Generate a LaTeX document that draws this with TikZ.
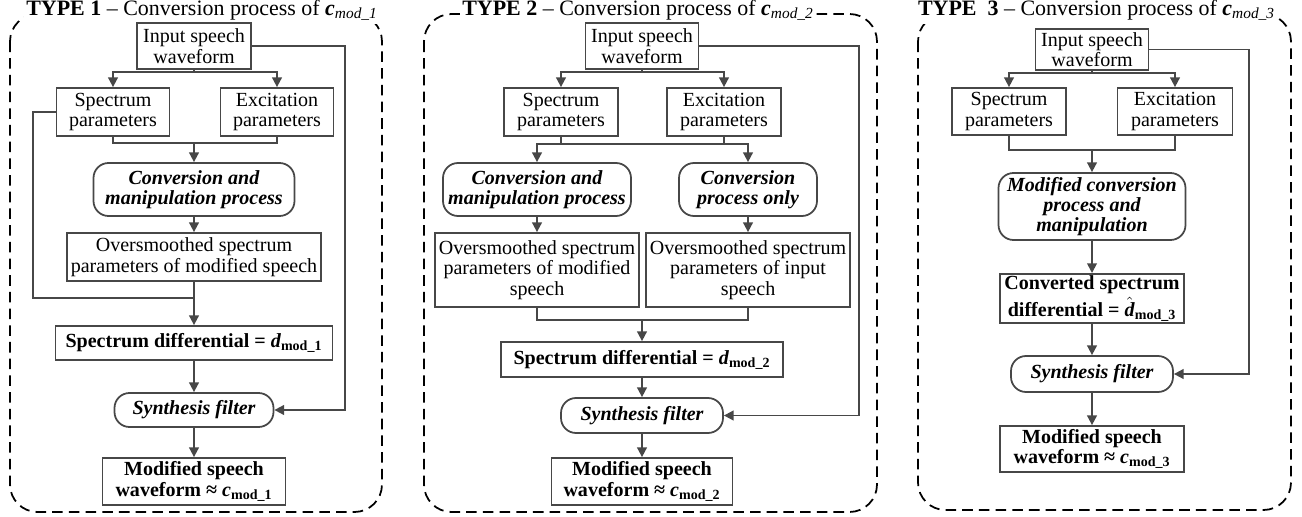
\documentclass[tikz,border=0pt]{standalone}
\usepackage{fontspec}
\setmainfont{Liberation Serif}
\usetikzlibrary{arrows.meta}

\definecolor{linegray}{HTML}{474747}
\newcommand{\bodyfont}{\fontsize{11.4}{11.6}\selectfont}
\newcommand{\ttlfont}{\fontsize{12.5}{13}\selectfont}

\tikzset{
  blk/.style={draw=linegray, line width=1pt, align=center, inner xsep=2pt, inner ysep=1pt, font=\bodyfont},
  proc/.style={blk, rounded corners=0.3cm, font=\bodyfont\bfseries\itshape},
  res/.style={blk, font=\bodyfont\bfseries},
  flow/.style={draw=linegray, line width=1pt, -{Triangle[length=5.5pt,width=5.5pt]}},
  link/.style={draw=linegray, line width=1pt},
  frame/.style={draw=black, line width=1pt, dash pattern=on 6pt off 3.5pt, rounded corners=0.55cm},
  ttl/.style={fill=white, font=\ttlfont, inner sep=1.5pt, anchor=base}
}

\begin{document}
\begin{tikzpicture}
\useasboundingbox (0,0) rectangle (26.04,-10.34);

% Dashed frames
\draw[frame] (0.2,-0.28) rectangle (7.64,-10.24);
\draw[frame] (8.48,-0.28) rectangle (17.54,-10.24);
\draw[frame] (18.36,-0.28) rectangle (25.82,-10.2);

% Titles
\node[ttl] (t1) at (4.04,-0.31) {\textbf{TYPE 1} -- Conversion process of \textbf{\textit{c}}\textsubscript{\textit{mod\_1}}};
\node[ttl] (t2) at (12.76,-0.31) {\textbf{TYPE 2} -- Conversion process of \textbf{\textit{c}}\textsubscript{\textit{mod\_2}}};
\node[ttl] (t3) at (21.93,-0.31) {\textbf{TYPE\ \ 3} -- Conversion process of \textbf{\textit{c}}\textsubscript{\textit{mod\_3}}};

% TYPE 1
\node[blk, minimum width=2.28cm, minimum height=0.92cm] (in1) at (3.88,-0.92) {Input speech\\waveform};
\node[blk, minimum width=2.26cm, minimum height=0.96cm] (sp1) at (2.26,-2.24) {Spectrum\\parameters};
\node[blk, minimum width=2.26cm, minimum height=0.96cm] (ex1) at (5.54,-2.24) {Excitation\\parameters};
\node[proc, minimum width=4.02cm, minimum height=1.06cm] (conv1) at (3.88,-3.79) {Conversion and\\manipulation process};
\node[blk, minimum width=5.0cm, minimum height=0.96cm] (ov1) at (3.88,-5.14) {Oversmoothed spectrum\\parameters of modified speech};
\node[res, minimum width=5.54cm, minimum height=0.68cm] (diff1) at (3.88,-6.86) {Spectrum differential = \textit{d}\textsubscript{mod\_1}};
\node[proc, minimum width=3.18cm, minimum height=0.68cm] (syn1) at (3.88,-8.2) {Synthesis filter};
\node[res, minimum width=3.66cm, minimum height=0.94cm] (mod1) at (3.88,-9.63) {Modified speech\\waveform ≈ \textit{c}\textsubscript{mod\_1}};

\coordinate (j1) at (3.88,-2.86);
\coordinate (m1) at (3.88,-5.96);
\draw[flow] (in1.south) -- ++(0,-0.04) -| (sp1.north);
\draw[flow] (in1.south) -- ++(0,-0.04) -| (ex1.north);
\draw[link] (sp1.south) |- (j1) -| (ex1.south);
\draw[flow] (j1) -- (conv1.north);
\draw[flow] (conv1) -- (ov1);
\draw[link] (sp1.west) -- ++(-0.45,0) |- (m1);
\draw[link] (ov1.south) -- (m1);
\draw[flow] (m1) -- (diff1.north);
\draw[flow] (diff1) -- (syn1);
\draw[flow] (syn1) -- (mod1);
\draw[flow] (in1.east) -- ++(1.86,0) |- (syn1.east);

% TYPE 2
\node[blk, minimum width=2.26cm, minimum height=0.92cm] (in2) at (12.84,-0.92) {Input speech\\waveform};
\node[blk, minimum width=2.28cm, minimum height=0.96cm] (sp2) at (11.22,-2.24) {Spectrum\\parameters};
\node[blk, minimum width=2.28cm, minimum height=0.96cm] (ex2) at (14.48,-2.24) {Excitation\\parameters};
\node[proc, minimum width=3.76cm, minimum height=1.06cm] (conv2a) at (10.74,-3.79) {Conversion and\\manipulation process};
\node[proc, minimum width=2.76cm, minimum height=1.06cm] (conv2b) at (14.96,-3.79) {Conversion\\process only};
\node[blk, minimum width=4.04cm, minimum height=1.48cm] (ov2a) at (10.74,-5.4) {Oversmoothed spectrum\\parameters of modified\\speech};
\node[blk, minimum width=4.04cm, minimum height=1.48cm] (ov2b) at (14.96,-5.4) {Oversmoothed spectrum\\parameters of input\\speech};
\node[res, minimum width=5.64cm, minimum height=0.7cm] (diff2) at (12.84,-7.19) {Spectrum differential = \textit{d}\textsubscript{mod\_2}};
\node[proc, minimum width=3.24cm, minimum height=0.7cm] (syn2) at (12.84,-8.31) {Synthesis filter};
\node[res, minimum width=3.62cm, minimum height=0.94cm] (mod2) at (12.84,-9.63) {Modified speech\\waveform ≈ \textit{c}\textsubscript{mod\_2}};

\coordinate (j2) at (12.84,-6.4);
\draw[flow] (in2.south) -- ++(0,-0.04) -| (sp2.north);
\draw[flow] (in2.south) -- ++(0,-0.04) -| (ex2.north);
\draw[flow] (sp2.south) -- ++(0,-0.14) -| (conv2b.north);
\draw[flow] (ex2.south) -- ++(0,-0.14) -| (conv2a.north);
\draw[flow] (conv2a) -- (ov2a);
\draw[flow] (conv2b) -- (ov2b);
\draw[link] (ov2a.south) |- (j2) -| (ov2b.south);
\draw[flow] (j2) -- (diff2.north);
\draw[flow] (diff2) -- (syn2);
\draw[flow] (syn2) -- (mod2);
\draw[flow] (in2.east) -- ++(3.19,0) |- (syn2.east);

% TYPE 3
\node[blk, minimum width=2.26cm, minimum height=0.82cm] (in3) at (21.84,-0.99) {Input speech\\waveform};
\node[blk, minimum width=2.28cm, minimum height=0.94cm] (sp3) at (20.18,-2.23) {Spectrum\\parameters};
\node[blk, minimum width=2.3cm, minimum height=0.94cm] (ex3) at (23.5,-2.23) {Excitation\\parameters};
\node[proc, minimum width=3.74cm, minimum height=1.34cm] (conv3) at (21.84,-4.13) {Modified conversion\\process and\\manipulation};
\node[res, minimum width=3.68cm, minimum height=0.98cm] (diff3) at (21.84,-5.97) {Converted spectrum\\[1pt]differential = $\hat{\mbox{\textbf{\textit{d}}}}$\textsubscript{mod\_3}};
\node[proc, minimum width=3.24cm, minimum height=0.72cm] (syn3) at (21.84,-7.48) {Synthesis filter};
\node[res, minimum width=3.68cm, minimum height=0.92cm] (mod3) at (21.84,-8.98) {Modified speech\\waveform ≈ \textit{c}\textsubscript{mod\_3}};

\coordinate (j3) at (21.84,-3.0);
\draw[flow] (in3.south) -- ++(0,-0.04) -| (sp3.north);
\draw[flow] (in3.south) -- ++(0,-0.04) -| (ex3.north);
\draw[link] (sp3.south) |- (j3) -| (ex3.south);
\draw[flow] (j3) -- (conv3.north);
\draw[flow] (conv3) -- (diff3);
\draw[flow] (diff3) -- (syn3);
\draw[flow] (syn3) -- (mod3);
\draw[flow] (in3.east) -- ++(1.99,0) |- (syn3.east);

\end{tikzpicture}
\end{document}
